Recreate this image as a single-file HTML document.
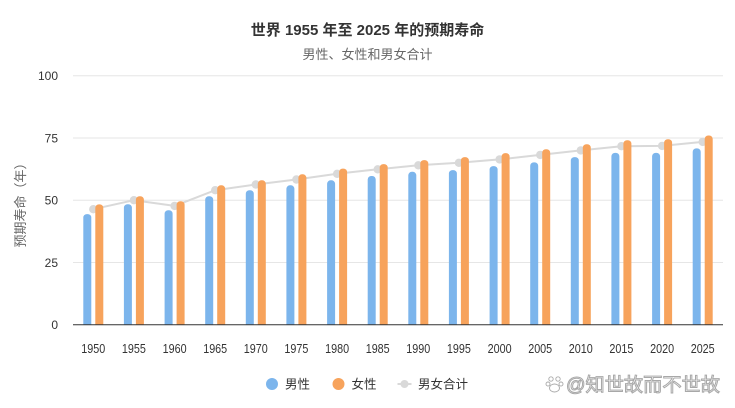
<!DOCTYPE html>
<html>
<head>
<meta charset="utf-8">
<style>
html,body{margin:0;padding:0;background:#fff;}
svg{display:block;font-family:"Liberation Sans","Noto Sans CJK SC",sans-serif;}
</style>
</head>
<body>
<svg width="735" height="408" viewBox="0 0 735 408" xmlns="http://www.w3.org/2000/svg">
<defs>
<clipPath id="c"><rect x="0" y="0" width="735" height="324.7"/></clipPath>
</defs>
<rect width="735" height="408" fill="#fff"/>
<text x="367.5" y="35" text-anchor="middle" font-size="15" font-weight="bold" fill="#333">世界 1955 年至 2025 年的预期寿命</text>
<text x="367.5" y="59" text-anchor="middle" font-size="13" fill="#666">男性、女性和男女合计</text>

<g stroke="#e6e6e6" stroke-width="1">
<line x1="73" y1="75.7" x2="723" y2="75.7"/>
<line x1="73" y1="138" x2="723" y2="138"/>
<line x1="73" y1="200.2" x2="723" y2="200.2"/>
<line x1="73" y1="262.5" x2="723" y2="262.5"/>
</g>

<g font-size="12" fill="#333" text-anchor="end">
<text x="58" y="80">100</text>
<text x="58" y="142.5">75</text>
<text x="58" y="204.5">50</text>
<text x="58" y="267">25</text>
<text x="58" y="329">0</text>
</g>
<text transform="translate(25,202) rotate(-90)" text-anchor="middle" font-size="13" fill="#666">预期寿命（年）</text>

<polyline fill="none" stroke="#d9d9d9" stroke-width="2" stroke-linejoin="round"
points="93.3,209.2 133.9,200.2 174.6,205.9 215.2,190.2 255.8,184.5 296.4,179.5 337.1,173.8 377.7,169.3 418.3,165.3 458.9,162.8 499.6,159.4 540.2,154.9 580.8,150.4 621.4,146.2 662.1,145.9 702.7,141.9"/>
<g fill="#d9d9d9">
<circle cx="93.3" cy="209.2" r="4.2"/>
<circle cx="133.9" cy="200.2" r="4.2"/>
<circle cx="174.6" cy="205.9" r="4.2"/>
<circle cx="215.2" cy="190.2" r="4.2"/>
<circle cx="255.8" cy="184.5" r="4.2"/>
<circle cx="296.4" cy="179.5" r="4.2"/>
<circle cx="337.1" cy="173.8" r="4.2"/>
<circle cx="377.7" cy="169.3" r="4.2"/>
<circle cx="418.3" cy="165.3" r="4.2"/>
<circle cx="458.9" cy="162.8" r="4.2"/>
<circle cx="499.6" cy="159.4" r="4.2"/>
<circle cx="540.2" cy="154.9" r="4.2"/>
<circle cx="580.8" cy="150.4" r="4.2"/>
<circle cx="621.4" cy="146.2" r="4.2"/>
<circle cx="662.1" cy="145.9" r="4.2"/>
<circle cx="702.7" cy="141.9" r="4.2"/>
</g>

<g clip-path="url(#c)">
<g fill="#7cb5ec">
<rect x="83.3" y="214.1" width="8" height="120" rx="3.5"/>
<rect x="123.9" y="204.2" width="8" height="130" rx="3.5"/>
<rect x="164.6" y="210.2" width="8" height="125" rx="3.5"/>
<rect x="205.2" y="196.2" width="8" height="140" rx="3.5"/>
<rect x="245.8" y="190.2" width="8" height="140" rx="3.5"/>
<rect x="286.4" y="185.3" width="8" height="150" rx="3.5"/>
<rect x="327.1" y="180.3" width="8" height="150" rx="3.5"/>
<rect x="367.7" y="176.0" width="8" height="160" rx="3.5"/>
<rect x="408.3" y="171.8" width="8" height="160" rx="3.5"/>
<rect x="448.9" y="170.1" width="8" height="160" rx="3.5"/>
<rect x="489.6" y="166.1" width="8" height="165" rx="3.5"/>
<rect x="530.2" y="162.4" width="8" height="170" rx="3.5"/>
<rect x="570.8" y="157.1" width="8" height="175" rx="3.5"/>
<rect x="611.4" y="152.9" width="8" height="180" rx="3.5"/>
<rect x="652.1" y="152.9" width="8" height="180" rx="3.5"/>
<rect x="692.7" y="148.4" width="8" height="185" rx="3.5"/>
</g>
<g fill="#f7a35c">
<rect x="95.3" y="204.4" width="8" height="130" rx="3.5"/>
<rect x="135.9" y="196.2" width="8" height="140" rx="3.5"/>
<rect x="176.6" y="201.2" width="8" height="130" rx="3.5"/>
<rect x="217.2" y="185.3" width="8" height="150" rx="3.5"/>
<rect x="257.8" y="180.3" width="8" height="150" rx="3.5"/>
<rect x="298.4" y="174.3" width="8" height="160" rx="3.5"/>
<rect x="339.1" y="168.6" width="8" height="160" rx="3.5"/>
<rect x="379.7" y="164.1" width="8" height="165" rx="3.5"/>
<rect x="420.3" y="160.1" width="8" height="170" rx="3.5"/>
<rect x="460.9" y="157.1" width="8" height="175" rx="3.5"/>
<rect x="501.6" y="153.1" width="8" height="175" rx="3.5"/>
<rect x="542.2" y="149.2" width="8" height="180" rx="3.5"/>
<rect x="582.8" y="144.2" width="8" height="185" rx="3.5"/>
<rect x="623.4" y="140.2" width="8" height="190" rx="3.5"/>
<rect x="664.1" y="139.2" width="8" height="190" rx="3.5"/>
<rect x="704.7" y="135.5" width="8" height="195" rx="3.5"/>
</g>
</g>

<line x1="73" y1="324.7" x2="723" y2="324.7" stroke="#333" stroke-width="1"/>

<g font-size="12.5" fill="#333" text-anchor="middle">
<text x="93.3" y="353" textLength="24" lengthAdjust="spacingAndGlyphs">1950</text>
<text x="133.9" y="353" textLength="24" lengthAdjust="spacingAndGlyphs">1955</text>
<text x="174.6" y="353" textLength="24" lengthAdjust="spacingAndGlyphs">1960</text>
<text x="215.2" y="353" textLength="24" lengthAdjust="spacingAndGlyphs">1965</text>
<text x="255.8" y="353" textLength="24" lengthAdjust="spacingAndGlyphs">1970</text>
<text x="296.4" y="353" textLength="24" lengthAdjust="spacingAndGlyphs">1975</text>
<text x="337.1" y="353" textLength="24" lengthAdjust="spacingAndGlyphs">1980</text>
<text x="377.7" y="353" textLength="24" lengthAdjust="spacingAndGlyphs">1985</text>
<text x="418.3" y="353" textLength="24" lengthAdjust="spacingAndGlyphs">1990</text>
<text x="458.9" y="353" textLength="24" lengthAdjust="spacingAndGlyphs">1995</text>
<text x="499.6" y="353" textLength="24" lengthAdjust="spacingAndGlyphs">2000</text>
<text x="540.2" y="353" textLength="24" lengthAdjust="spacingAndGlyphs">2005</text>
<text x="580.8" y="353" textLength="24" lengthAdjust="spacingAndGlyphs">2010</text>
<text x="621.4" y="353" textLength="24" lengthAdjust="spacingAndGlyphs">2015</text>
<text x="662.1" y="353" textLength="24" lengthAdjust="spacingAndGlyphs">2020</text>
<text x="702.7" y="353" textLength="24" lengthAdjust="spacingAndGlyphs">2025</text>
</g>

<!-- legend -->
<circle cx="272" cy="384" r="6" fill="#7cb5ec"/>
<text x="285" y="388.5" font-size="12.5" fill="#333">男性</text>
<circle cx="338.5" cy="384" r="6" fill="#f7a35c"/>
<text x="351.5" y="388.5" font-size="12.5" fill="#333">女性</text>
<line x1="397.5" y1="384" x2="411.5" y2="384" stroke="#d9d9d9" stroke-width="2"/>
<circle cx="404.5" cy="384" r="4" fill="#d9d9d9"/>
<text x="418" y="388.5" font-size="12.5" fill="#333">男女合计</text>

<!-- watermark -->
<g fill="#fff" stroke="#aaa" stroke-width="0.9">
<circle cx="551" cy="379" r="2.2"/>
<circle cx="558" cy="379" r="2.2"/>
<circle cx="548" cy="384" r="2"/>
<circle cx="561" cy="384" r="2"/>
<ellipse cx="554.5" cy="388" rx="5" ry="4"/>
</g>
<text x="566" y="391" font-size="19" fill="#fff" stroke="#a8a8a8" stroke-width="1" textLength="154" lengthAdjust="spacingAndGlyphs">@知世故而不世故</text>
</svg>
</body>
</html>
